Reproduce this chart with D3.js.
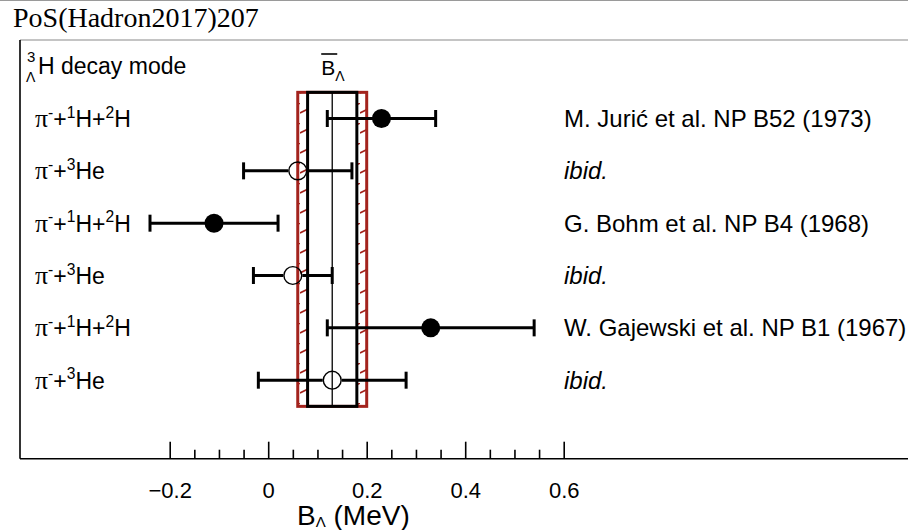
<!DOCTYPE html>
<html>
<head>
<meta charset="utf-8">
<script src="https://cdn.jsdelivr.net/npm/d3@7"></script>
<style>
  body { margin: 0; background: #fff; }
  text { font-family: "Liberation Sans", Arial, Helvetica, sans-serif; fill: #000; }
</style>
</head>
<body>
<svg id="chart" width="908" height="530"></svg>
<script>
// Hypertriton binding energy per decay channel and emulsion experiment
const decayModes = ["π⁻+¹H+²H", "π⁻+³He", "π⁻+¹H+²H", "π⁻+³He", "π⁻+¹H+²H", "π⁻+³He"];
const bLambda    = [0.23, 0.06, -0.11, 0.05, 0.33, 0.13];
const bError     = [0.11, 0.11, 0.13, 0.08, 0.21, 0.15];
const threeBody  = [true, false, true, false, true, false];
const references = ["M. Jurić et al. NP B52 (1973)", "ibid.", "G. Bohm et al. NP B4 (1968)", "ibid.",
                    "W. Gajewski et al. NP B1 (1967)", "ibid."];
const italicRef  = [false, true, false, true, false, true];

// Averaged value with statistical and total uncertainty
const avgB = 0.13;
const avgStat = 0.05;
const avgTotal = 0.07;

const majorTicks = [-0.2, 0, 0.2, 0.4, 0.6];
const minorTicks = [-0.15, -0.1, -0.05, 0.05, 0.1, 0.15, 0.25, 0.3, 0.35, 0.45, 0.5, 0.55];

const svg = d3.select("#chart");
const W = 908, H = 530;
const red = "#a3231d";

const x = d3.scaleLinear().domain([-0.2, 0.6]).range([169.7, 563.7]);
const y = d3.scaleLinear().domain([-0.5, 7.5]).range([40, 458.7]);
const frameLeft = 20;

// page header
svg.append("line").attr("x1", 0).attr("x2", W).attr("y1", 0.5).attr("y2", 0.5)
  .attr("stroke", "#9a9a9a").attr("stroke-width", 1);
svg.append("text").attr("x", 13).attr("y", 27)
  .style("font-family", "'Liberation Serif', 'Times New Roman', serif")
  .attr("font-size", 28).text("PoS(Hadron2017)207");

// frame
svg.append("line").attr("x1", frameLeft).attr("x2", W).attr("y1", y(-0.5)).attr("y2", y(-0.5))
  .attr("stroke", "#8a8a8a").attr("stroke-width", 1.2);
svg.append("line").attr("x1", frameLeft).attr("x2", frameLeft).attr("y1", y(-0.5)).attr("y2", y(7.5))
  .attr("stroke", "#000").attr("stroke-width", 1.6);

// hatch pattern for the systematic band
const defs = svg.append("defs");
const pat = defs.append("pattern").attr("id", "hatch")
  .attr("patternUnits", "userSpaceOnUse").attr("width", 20).attr("height", 20)
  .attr("y", 3);
pat.append("line").attr("x1", 0).attr("y1", 10).attr("x2", 20).attr("y2", 0)
  .attr("stroke", red).attr("stroke-width", 1.6);

const bandTop = y(0.5), bandBot = y(6.5);
// hatched strips between the total and statistical boxes
[[avgB - avgTotal, avgB - avgStat], [avgB + avgStat, avgB + avgTotal]].forEach(([a, b]) => {
  svg.append("rect").attr("x", x(a)).attr("y", bandTop)
    .attr("width", x(b) - x(a)).attr("height", bandBot - bandTop)
    .attr("fill", "url(#hatch)");
});
svg.append("rect")
  .attr("x", x(avgB - avgTotal)).attr("y", bandTop)
  .attr("width", x(avgB + avgTotal) - x(avgB - avgTotal)).attr("height", bandBot - bandTop)
  .attr("fill", "none").attr("stroke", red).attr("stroke-width", 3);
svg.append("rect")
  .attr("x", x(avgB - avgStat)).attr("y", bandTop)
  .attr("width", x(avgB + avgStat) - x(avgB - avgStat)).attr("height", bandBot - bandTop)
  .attr("fill", "none").attr("stroke", "#000").attr("stroke-width", 3);
svg.append("line").attr("x1", x(avgB)).attr("x2", x(avgB)).attr("y1", bandTop).attr("y2", bandBot)
  .attr("stroke", "#000").attr("stroke-width", 1.3);

// band label: B-bar with subscript Lambda
const bl = svg.append("text").attr("x", x(avgB) - 11).attr("y", 75).attr("font-size", 21);
const bPart = bl.append("tspan").text("B");
bl.append("tspan").attr("font-size", 14).attr("dy", 6).text("Λ");
const bLen = bPart.node().getComputedTextLength();
svg.append("line").attr("x1", x(avgB) - 11).attr("x2", x(avgB) - 11 + bLen + 2)
  .attr("y1", 54).attr("y2", 54).attr("stroke", "#000").attr("stroke-width", 1.6);

// rich text with superscripts
const supMap = { "⁻": "-", "¹": "1", "²": "2", "³": "3" };
function addRich(textSel, str, base) {
  const runs = [];
  for (const ch of str) {
    const isSup = ch in supMap;
    const c = isSup ? supMap[ch] : ch;
    const kind = isSup ? "sup" : (ch === "π" ? "pi" : "n");
    if (runs.length && runs[runs.length - 1].kind === kind) runs[runs.length - 1].t += c;
    else runs.push({ kind, t: c });
  }
  let shift = 0;
  runs.forEach(r => {
    const target = r.kind === "sup" ? -base * 0.4 : 0;
    const ts = textSel.append("tspan").attr("dy", target - shift).text(r.t);
    shift = target;
    if (r.kind === "sup") ts.attr("font-size", base * 0.68);
    if (r.kind === "pi") ts.style("font-family", "'Liberation Serif', serif").attr("font-size", base * 1.12);
  });
}

// header row
svg.append("text").attr("x", 27).attr("y", 62).attr("font-size", 15).text("3");
svg.append("text").attr("x", 26).attr("y", 82).attr("font-size", 14).text("Λ");
svg.append("text").attr("x", 38).attr("y", y(0) + 8).attr("font-size", 23).text("H decay mode");

const rows = d3.range(decayModes.length);

// decay mode labels
rows.forEach(i => {
  const t = svg.append("text").attr("x", 35).attr("y", y(i + 1) + 8.5).attr("font-size", 23);
  addRich(t, decayModes[i], 23);
});

// reference labels
svg.selectAll("text.ref").data(rows).join("text").attr("class", "ref")
  .attr("x", 564).attr("y", i => y(i + 1) + 8.5).attr("font-size", 24)
  .attr("font-style", i => italicRef[i] ? "italic" : "normal")
  .text(i => references[i]);

// error bars and markers
const r = 9.5, cap = 8.5;
rows.forEach(i => {
  const cy = y(i + 1);
  const cx = x(bLambda[i]);
  const lo = x(bLambda[i] - bError[i]);
  const hi = x(bLambda[i] + bError[i]);
  const g = svg.append("g");
  if (threeBody[i]) {
    g.append("line").attr("x1", lo).attr("x2", hi).attr("y1", cy).attr("y2", cy)
      .attr("stroke", "#000").attr("stroke-width", 3);
  } else {
    g.append("line").attr("x1", lo).attr("x2", cx - r).attr("y1", cy).attr("y2", cy)
      .attr("stroke", "#000").attr("stroke-width", 3);
    g.append("line").attr("x1", cx + r).attr("x2", hi).attr("y1", cy).attr("y2", cy)
      .attr("stroke", "#000").attr("stroke-width", 3);
  }
  [lo, hi].forEach(e => g.append("line").attr("x1", e).attr("x2", e)
    .attr("y1", cy - cap).attr("y2", cy + cap).attr("stroke", "#000").attr("stroke-width", 3));
  g.append("circle").attr("cx", cx).attr("cy", cy).attr("r", threeBody[i] ? r : r - 0.6)
    .attr("fill", threeBody[i] ? "#000" : "none")
    .attr("stroke", "#000").attr("stroke-width", threeBody[i] ? 0 : 1.4);
});

// x axis
const axisY = y(7.5);
svg.append("line").attr("x1", frameLeft).attr("x2", W).attr("y1", axisY).attr("y2", axisY)
  .attr("stroke", "#000").attr("stroke-width", 1.6);
const gMajor = svg.append("g").attr("transform", `translate(0,${axisY})`)
  .call(d3.axisBottom(x).tickValues(majorTicks).tickSize(-17).tickPadding(24)
    .tickFormat(d3.format("~g")));
gMajor.select(".domain").remove();
gMajor.selectAll(".tick line").attr("stroke-width", 1.6);
gMajor.selectAll(".tick text").attr("font-size", 22)
  .style("font-family", "'Liberation Sans', Arial, sans-serif");
const gMinor = svg.append("g").attr("transform", `translate(0,${axisY})`)
  .call(d3.axisBottom(x).tickValues(minorTicks).tickSize(-9).tickFormat(""));
gMinor.select(".domain").remove();
gMinor.selectAll(".tick line").attr("stroke-width", 1.6);

// axis title
const at = svg.append("text").attr("x", 297).attr("y", 525).attr("font-size", 28);
at.append("tspan").text("B");
at.append("tspan").attr("font-size", 15).attr("dy", 2).text("Λ");
at.append("tspan").attr("dy", -2).text(" (MeV)");
</script>
</body>
</html>
